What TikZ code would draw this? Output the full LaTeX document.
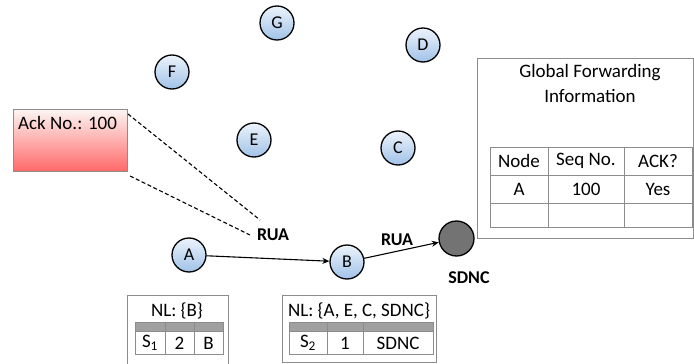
\documentclass[tikz,border=0pt]{standalone}
\usepackage{fontspec}
\setmainfont{Carlito}
\usetikzlibrary{arrows.meta}
\definecolor{nodeblue}{RGB}{160,194,232}
\definecolor{nodetop}{RGB}{236,243,251}
\definecolor{boxgray}{RGB}{140,140,140}
\definecolor{hdrgray}{RGB}{160,160,160}
\definecolor{ackred}{RGB}{255,105,105}
\definecolor{acktop}{RGB}{252,246,243}
\begin{document}
\begin{tikzpicture}[x=1pt,y=-1pt,
  every node/.style={font=\fontsize{19}{22}\selectfont},
  netnode/.style={circle, draw=black, line width=1.3pt, minimum size=34pt, inner sep=0pt,
    top color=nodetop, bottom color=nodeblue, font=\fontsize{18}{21}\selectfont},
  sdncnode/.style={circle, draw=black, line width=1.3pt, minimum size=35pt, inner sep=0pt, fill=black!55},
  boldlbl/.style={font=\fontsize{18}{21}\selectfont\bfseries},
  txt/.style={inner sep=0pt},
  frame/.style={draw=boxgray, line width=0.8pt},
  grid/.style={draw=boxgray, line width=0.7pt},
  hdr/.style={fill=hdrgray, draw=boxgray, line width=0.7pt},
  link/.style={line width=1.1pt, -{Stealth[length=7pt,width=6pt]}},
  dashlink/.style={line width=1.1pt, dash pattern=on 4pt off 2.5pt}
]
\useasboundingbox (0,0) rectangle (694,364);

% network nodes
\node[netnode] (G) at (277,23) {G};
\node[netnode] (D) at (423,45) {D};
\node[netnode] (F) at (172,72) {F};
\node[netnode] (E) at (254,140) {E};
\node[netnode] (C) at (398,148) {C};
\node[netnode] (A) at (189,255) {A};
\node[netnode] (B) at (347,262) {B};
\node[sdncnode] (S) at (456.5,238.5) {};

\draw[link] (A) -- (B);
\draw[link] (B) -- (S);

\node[boldlbl, txt] (rua1) at (273,235) {RUA};
\node[boldlbl, txt] (rua2) at (397,240) {RUA};
\node[boldlbl, txt] (sdnclbl) at (469,278) {SDNC};

% Ack box
\node[draw=boxgray, line width=0.8pt, top color=acktop, bottom color=ackred,
      minimum width=114pt, minimum height=62pt, inner sep=0pt] (ack) at (70,140) {};
\node[txt, anchor=north west] (acktxt) at (18,116) {Ack No.: 100};
\coordinate (d1a) at (128,114);
\coordinate (d1b) at (260,220);
\coordinate (d2a) at (130,176);
\coordinate (d2b) at (250,235);
\draw[dashlink] (d1a) -- (d1b);
\draw[dashlink] (d2a) -- (d2b);

% NL table 1
\draw[frame] (127,372) -- (127,295) -- (228,295) -- (228,372);
\node[txt] (nl1) at (177,311) {NL: \{B\}};
\draw[hdr] (135,322) rectangle (223,331);
\draw[grid] (135,331) rectangle (223,354);
\draw[grid] (165,322) -- (165,354);
\draw[grid] (194,322) -- (194,354);
\node[txt] (n1a) at (150,343) {S\textsubscript{1}};
\node[txt] (n1b) at (179.5,343) {2};
\node[txt] (n1c) at (208.5,343) {B};

% NL table 2
\draw[frame] (282,295) rectangle (436,362);
\node[txt] (nl2) at (359,311) {NL: \{A, E, C, SDNC\}};
\draw[hdr] (289,322) rectangle (433,331);
\draw[grid] (289,331) rectangle (433,354);
\draw[grid] (327,322) -- (327,354);
\draw[grid] (363,322) -- (363,354);
\node[txt] (n2a) at (308,343) {S\textsubscript{2}};
\node[txt] (n2b) at (345,343) {1};
\node[txt] (n2c) at (398,343) {SDNC};

% Global forwarding information
\draw[frame] (477,58) rectangle (693,238);
\node[txt] (gt1) at (590,73) {Global Forwarding};
\node[txt] (gt2) at (590,96) {Information};
\draw[grid] (490,147) rectangle (692,227);
\draw[grid] (490,175) -- (692,175);
\draw[grid] (490,203) -- (692,203);
\draw[grid] (548,147) -- (548,227);
\draw[grid] (624,147) -- (624,227);
\node[txt] (h1) at (519,161) {Node};
\node[txt] (h2) at (586,161) {Seq No.};
\node[txt] (h3) at (658,161) {ACK?};
\node[txt] (r1) at (519,189) {A};
\node[txt] (r2) at (586,189) {100};
\node[txt] (r3) at (658,189) {Yes};
\end{tikzpicture}
\end{document}
